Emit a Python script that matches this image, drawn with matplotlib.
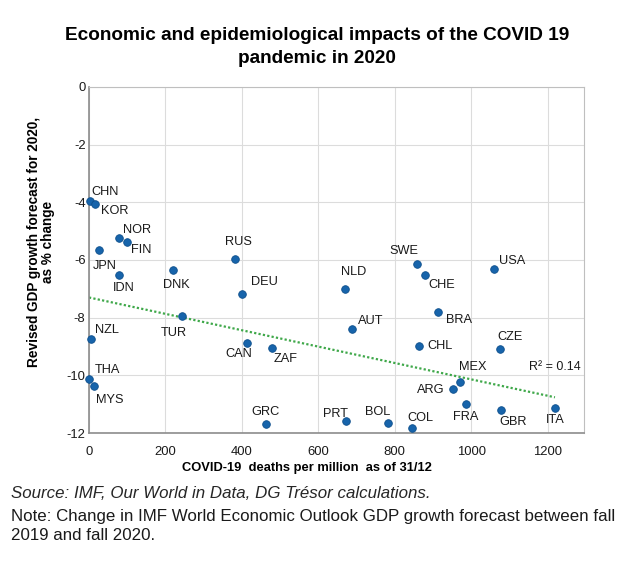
import matplotlib.pyplot as plt
import numpy as np

plt.rcParams['font.family'] = ['Liberation Sans', 'DejaVu Sans']
plt.rcParams['axes.unicode_minus'] = False

# data
countries = ['CHN', 'KOR', 'NOR', 'FIN', 'JPN', 'IDN', 'DNK', 'RUS', 'TUR', 'NZL',
             'THA', 'MYS', 'CAN', 'DEU', 'NLD', 'AUT', 'ZAF', 'GRC', 'PRT', 'BOL',
             'SWE', 'CHE', 'USA', 'BRA', 'CHL', 'CZE', 'MEX', 'ARG', 'FRA', 'GBR',
             'ITA', 'COL']
deaths = [3, 17, 79, 100, 25, 79, 221, 382, 244, 4,
          1, 14, 414, 399, 669, 688, 478, 463, 673, 782,
          859, 879, 1059, 912, 864, 1076, 971, 951, 986, 1078,
          1219, 844]
gdp_rev = [-3.95, -4.05, -5.23, -5.39, -5.67, -6.53, -6.36, -5.95, -7.93, -8.74,
           -10.13, -10.37, -8.87, -7.18, -6.99, -8.38, -9.04, -11.70, -11.60, -11.67,
           -6.13, -6.52, -6.32, -7.80, -8.98, -9.09, -10.24, -10.49, -11.00, -11.20,
           -11.14, -11.81]
# linear trend as drawn in the source chart
trend_intercept = -7.30
trend_slope = -0.00284
r2_label = 'R² = 0.14'
x_ticks = [0, 200, 400, 600, 800, 1000, 1200]
y_ticks = [0, -2, -4, -6, -8, -10, -12]

# label offsets in pixels (dx right, dy down) from the dot
lbl_off = {
    'CHN': (15, -9), 'KOR': (19, 7), 'NOR': (18, -8), 'FIN': (14, 8), 'JPN': (6, 16),
    'IDN': (5, 13), 'DNK': (3, 15), 'RUS': (3, -17), 'TUR': (-8, 17), 'NZL': (16, -9),
    'THA': (18, -9), 'MYS': (15, 14), 'CAN': (-8, 11), 'DEU': (23, -12), 'NLD': (9, -17),
    'AUT': (19, -8), 'ZAF': (14, 11), 'GRC': (0, -12), 'PRT': (-11, -7), 'BOL': (-10, -11),
    'SWE': (-13, -13), 'CHE': (17, 10), 'USA': (18, -8), 'BRA': (21, 8), 'CHL': (21, 0),
    'CZE': (10, -12), 'MEX': (13, -15), 'ARG': (-22, 1), 'FRA': (0, 13), 'GBR': (12, 12),
    'ITA': (0, 12), 'COL': (9, -10),
}

fig = plt.figure(figsize=(6.25, 5.63), dpi=100)
ax = fig.add_axes([0.1424, 0.2309, 0.792, 0.6146])

x = np.array(deaths, dtype=float)
y = np.array(gdp_rev, dtype=float)

xt = np.array([0, x.max()])
ax.plot(xt, trend_intercept + trend_slope * xt, color='#3fa84a', lw=1.6,
        ls=(0, (1, 1)), zorder=2)

ax.scatter(x, y, s=30, color='#1764ab', edgecolor='#0e4f8c', lw=0.6, zorder=3, clip_on=False)

for c, xi, yi in zip(countries, x, y):
    dx, dy = lbl_off[c]
    ax.annotate(c, (xi, yi), xytext=(dx * 0.72, -dy * 0.72), textcoords='offset points',
                ha='center', va='center', fontsize=9.2, color='#1a1a1a')

ax.text(0.994, 0.19, r2_label, transform=ax.transAxes, ha='right', va='center',
        fontsize=9, color='#1a1a1a')

ax.set_xlim(0, 1295)
ax.set_ylim(-12, 0)
ax.set_xticks(x_ticks)
ax.set_yticks(y_ticks)
ax.tick_params(length=0, labelsize=9.4, colors='#1a1a1a')
ax.tick_params(axis='x', pad=9)
ax.tick_params(axis='y', pad=2.5)
ax.grid(True, color='#dcdcdc', lw=0.8)
ax.set_axisbelow(True)
for side in ['top', 'right']:
    ax.spines[side].set_color('#bfbfbf')
for side in ['left', 'bottom']:
    ax.spines[side].set_color('#8c8c8c')
    ax.spines[side].set_linewidth(1.2)

fig.text(307 / 625, 1 - 468 / 563, 'COVID-19  deaths per million  as of 31/12',
         fontsize=9.3, fontweight='bold', ha='center', va='center')
fig.text(41 / 625, 1 - 242 / 563, 'Revised GDP growth forecast for 2020,\nas % change',
         fontsize=9.8, fontweight='bold', rotation=90, ha='center', va='center',
         linespacing=1.08)

fig.text(317 / 625, 1 - 47 / 563,
         'Economic and epidemiological impacts of the COVID 19\npandemic in 2020',
         ha='center', va='center', fontsize=13.7, fontweight='bold', linespacing=1.45)

fig.text(11 / 625, 1 - 493 / 563, 'Source: IMF, Our World in Data, DG Trésor calculations.',
         fontsize=12.2, style='italic', color='#262626', va='center')
fig.text(11 / 625, 1 - 526 / 563,
         'Note: Change in IMF World Economic Outlook GDP growth forecast between fall\n'
         '2019 and fall 2020.', fontsize=12.2, color='#1a1a1a', va='center', linespacing=1.28)

fig.savefig('out.png', dpi=100)
